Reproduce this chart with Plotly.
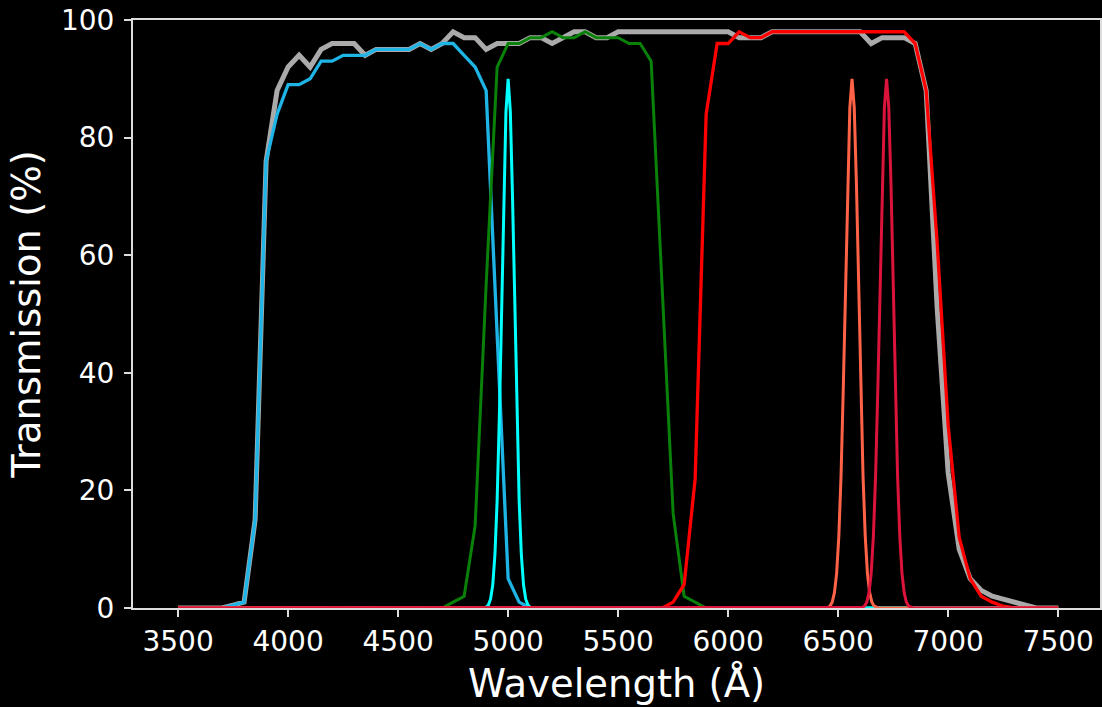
import plotly.graph_objects as go

# ---------------- data ----------------
# Broadband luminance filter (gray), 50 A steps 3500..7500
wl_L = list(range(3500, 7501, 50))
T_L = [0, 0, 0, 0, 0, 0.5, 1, 15, 76, 88,            # 3500-3950
       92, 94, 92, 95, 96, 96, 96, 94, 95, 95,          # 4000-4450
       95, 95, 96, 95, 96, 98, 97, 97, 95, 96,          # 4500-4950
       96, 96, 97, 97, 96, 97, 98, 98, 97, 97,          # 5000-5450
       98, 98, 98, 98, 98, 98, 98, 98, 98, 98,          # 5500-5950
       98, 97, 97, 97, 98, 98, 98, 98, 98, 98,          # 6000-6450
       98, 98, 98, 96, 97, 97, 97, 96, 88, 51,          # 6500-6950
       23, 10, 5, 3, 2, 1.5, 1, 0.5, 0, 0,              # 7000-7450
       0]                                                # 7500

# Blue filter
wl_B = [3500, 3700, 3750, 3800, 3850, 3900, 3950, 4000, 4050, 4100, 4150, 4200,
        4250, 4300, 4350, 4400, 4450, 4500, 4550, 4600, 4650, 4700, 4750, 4800,
        4850, 4900, 4950, 5000, 5050, 5100, 7500]
T_B = [0, 0, 0.5, 1, 15, 76, 84, 89, 89, 90, 93, 93,
       94, 94, 94, 95, 95, 95, 95, 96, 95, 96, 96, 94,
       92, 88, 45, 5, 1, 0, 0]

# Green filter
wl_G = [3500, 4700, 4750, 4800, 4850, 4900, 4950, 5000, 5050, 5100, 5150, 5200,
        5250, 5300, 5350, 5400, 5450, 5500, 5550, 5600, 5650, 5700, 5750, 5800,
        5850, 5900, 7500]
T_G = [0, 0, 1, 2, 14, 55, 92, 96, 96, 97, 97, 98,
       97, 97, 98, 97, 97, 97, 96, 96, 93, 55, 16, 2,
       1, 0, 0]

# Red filter
wl_R = [3500, 5700, 5750, 5800, 5850, 5900, 5950, 6000, 6050, 6100, 6150, 6200,
        6250, 6300, 6350, 6400, 6450, 6500, 6550, 6600, 6650, 6700, 6750, 6800,
        6850, 6900, 6950, 7000, 7050, 7100, 7150, 7200, 7250, 7300, 7500]
T_R = [0, 0, 1, 4, 22, 84, 96, 96, 98, 97, 97, 98,
       98, 98, 98, 98, 98, 98, 98, 98, 98, 98, 98, 98,
       96, 88, 62, 31, 12, 5, 2, 1, 0.3, 0, 0]

# [OIII] narrow band (cyan)
wl_O3 = [3500, 4880, 4890, 4900, 4910, 4920, 4930, 4940, 4950, 4960, 4970, 4980, 4990,
         5000, 5010, 5020, 5030, 5040, 5050, 5060, 5070, 5080, 5090, 5100, 5110, 5120, 7500]
T_O3 = [0, 0, 0.05, 0.15, 0.5, 1.5, 3.9, 9.1, 18.3, 32.4, 50.7, 69.7, 84.4,
        90, 84.4, 69.7, 50.7, 32.4, 18.3, 9.1, 3.9, 1.5, 0.5, 0.15, 0.05, 0, 0]

# H-alpha narrow band (orange)
wl_Ha = [3500, 6443, 6453, 6463, 6473, 6483, 6493, 6503, 6513, 6523, 6533, 6543, 6553,
         6563, 6573, 6583, 6593, 6603, 6613, 6623, 6633, 6643, 6653, 6663, 6673, 6683, 7500]
T_Ha = [0, 0, 0.1, 0.35, 1.0, 2.6, 5.9, 12.2, 22.4, 37.0, 54.6, 72.1, 85.1,
        90, 85.1, 72.1, 54.6, 37.0, 22.4, 12.2, 5.9, 2.6, 1.0, 0.35, 0.1, 0, 0]

# [SII] narrow band (crimson)
wl_S2 = [3500, 6600, 6610, 6620, 6630, 6640, 6650, 6660, 6670, 6680, 6690, 6700, 6710,
         6720, 6730, 6740, 6750, 6760, 6770, 6780, 6790, 6800, 6810, 6820, 6830, 6840, 7500]
T_S2 = [0, 0, 0.1, 0.35, 1.0, 2.6, 5.9, 12.2, 22.4, 37.0, 54.6, 72.1, 85.1,
        90, 85.1, 72.1, 54.6, 37.0, 22.4, 12.2, 5.9, 2.6, 1.0, 0.35, 0.1, 0, 0]

x_ticks = [3500, 4000, 4500, 5000, 5500, 6000, 6500, 7000, 7500]
y_ticks = [0, 20, 40, 60, 80, 100]

# ---------------- figure ----------------
series = [
    (wl_L, T_L, "#aaaaaa", 5),
    (wl_B, T_B, "#1fb4e6", 3.3),
    (wl_G, T_G, "#0a820a", 3),
    (wl_O3, T_O3, "#00ffff", 3),
    (wl_R, T_R, "#ff0000", 3.3),
    (wl_Ha, T_Ha, "#ff6347", 3),
    (wl_S2, T_S2, "#dc143c", 3),
]

fig = go.Figure()
for xs, ys, col, w in series:
    fig.add_trace(go.Scatter(x=xs, y=ys, mode="lines",
                             line=dict(color=col, width=w),
                             showlegend=False, hoverinfo="skip"))

axis_common = dict(
    showgrid=False, zeroline=False, showline=True, linecolor="#dddddd", linewidth=2,
    mirror=True, ticks="outside", ticklen=7, tickwidth=1.5, tickcolor="#dddddd",
    tickfont=dict(family="DejaVu Sans", size=28, color="#ffffff"),
    layer="below traces",
)

fig.update_layout(
    width=1102, height=707,
    paper_bgcolor="black", plot_bgcolor="black",
    margin=dict(l=133, r=2, t=20, b=99, autoexpand=False),
    font=dict(family="DejaVu Sans", color="#ffffff"),
    xaxis=dict(range=[3295, 7690], tickvals=x_ticks, ticktext=[str(v) for v in x_ticks],
               title=dict(text="Wavelength (Å)", font=dict(family="DejaVu Sans", size=38.5, color="#ffffff"),
                          standoff=13),
               automargin=False, **axis_common),
    yaxis=dict(range=[0, 100], tickvals=y_ticks, ticktext=[str(v) for v in y_ticks],
               title=dict(text="Transmission (%)", font=dict(family="DejaVu Sans", size=38.5, color="#ffffff"),
                          standoff=8),
               automargin=False, ticklabelstandoff=4, **axis_common),
)

fig.write_html("out.html")
